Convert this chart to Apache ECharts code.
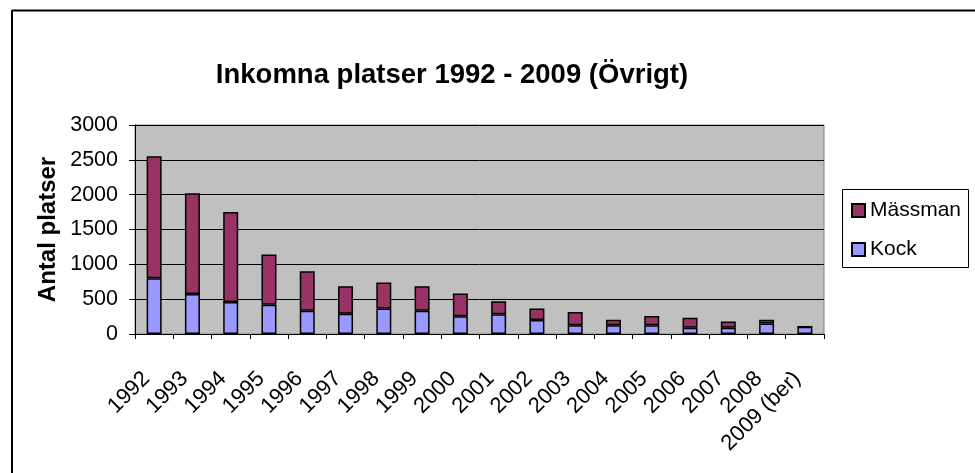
<!DOCTYPE html>
<html>
<head>
<meta charset="utf-8">
<script src="https://cdn.jsdelivr.net/npm/echarts@6/dist/echarts.min.js"></script>
<style>
  html, body { margin: 0; padding: 0; background: #fff; }
  #chart { width: 975px; height: 473px; }
</style>
</head>
<body>
<div id="chart"></div>
<script>
// Data
const years = ['1992', '1993', '1994', '1995', '1996', '1997', '1998', '1999', '2000',
  '2001', '2002', '2003', '2004', '2005', '2006', '2007', '2008', '2009 (ber)'];
const kock = [800, 575, 460, 420, 335, 290, 365, 335, 255, 285, 200, 125, 125, 125, 90, 90, 150, 105];
const massman = [1750, 1445, 1290, 720, 565, 395, 375, 350, 325, 185, 165, 190, 80, 135, 145, 90, 55, 0];

const font = 'Liberation Sans, Arial, sans-serif';

const myChart = echarts.init(document.getElementById('chart'));

const option = {
  animation: false,
  backgroundColor: '#ffffff',
  title: {
    text: 'Inkomna platser 1992 - 2009 (Övrigt)',
    left: 447,
    top: 56,
    textAlign: 'center',
    textStyle: { fontFamily: font, fontSize: 27.5, fontWeight: 'bold', color: '#000' },
  },
  legend: {
    orient: 'vertical',
    left: 846,
    top: 195,
    itemWidth: 13,
    itemHeight: 13,
    itemGap: 18,
    icon: 'rect',
    data: ['Mässman', 'Kock'],
    textStyle: { fontFamily: font, fontSize: 21, color: '#000' },
  },
  grid: {
    left: 135,
    top: 125,
    width: 689,
    height: 209,
    show: true,
    backgroundColor: '#c0c0c0',
    borderColor: '#808080',
    borderWidth: 1,
  },
  xAxis: {
    type: 'category',
    data: years,
    axisLine: { lineStyle: { color: '#000' } },
    axisTick: { show: true, length: 5, lineStyle: { color: '#000' } },
    axisLabel: {
      rotate: 45,
      margin: 18,
      interval: 0,
      verticalAlign: 'top',
      padding: [0, 22, 0, 0],
      fontFamily: font,
      fontSize: 22,
      color: '#000',
    },
  },
  yAxis: {
    type: 'value',
    min: 0,
    max: 3000,
    interval: 500,
    name: 'Antal platser',
    nameLocation: 'middle',
    nameGap: 87,
    nameMoveOverlap: false,
    nameTextStyle: { fontFamily: font, fontSize: 24, fontWeight: 'bold', color: '#000', verticalAlign: 'middle' },
    axisLine: { show: true, lineStyle: { color: '#000' } },
    axisTick: { show: true, length: 6, lineStyle: { color: '#000' } },
    axisLabel: {
      fontFamily: font,
      fontSize: 21.5,
      color: '#000',
      margin: 17,
      formatter: (v) => String(v),
    },
    splitLine: { lineStyle: { color: '#000', width: 1 } },
  },
  series: [
    {
      name: 'Kock',
      type: 'bar',
      stack: 'total',
      data: kock,
      barWidth: 15,
      itemStyle: { color: '#9999ff', borderColor: '#000', borderWidth: 1.5 },
    },
    {
      name: 'Mässman',
      type: 'bar',
      stack: 'total',
      data: massman,
      barWidth: 15,
      itemStyle: { color: '#993366', borderColor: '#000', borderWidth: 1.5 },
    },
  ],
  graphic: [
    // outer frame (top and left edges only, as in the cropped original)
    { type: 'line', shape: { x1: 12, y1: 10.5, x2: 975, y2: 10.5 }, style: { stroke: '#000', lineWidth: 2 } },
    { type: 'line', shape: { x1: 12, y1: 10, x2: 12, y2: 473 }, style: { stroke: '#000', lineWidth: 2 } },
    // legend box
    { type: 'rect', shape: { x: 842.5, y: 189.5, width: 126, height: 78 }, style: { fill: 'none', stroke: '#000', lineWidth: 1 }, z: -1 },
  ],
};

myChart.setOption(option);

window.addEventListener('resize', () => {
  myChart.resize();
});
</script>
</body>
</html>
